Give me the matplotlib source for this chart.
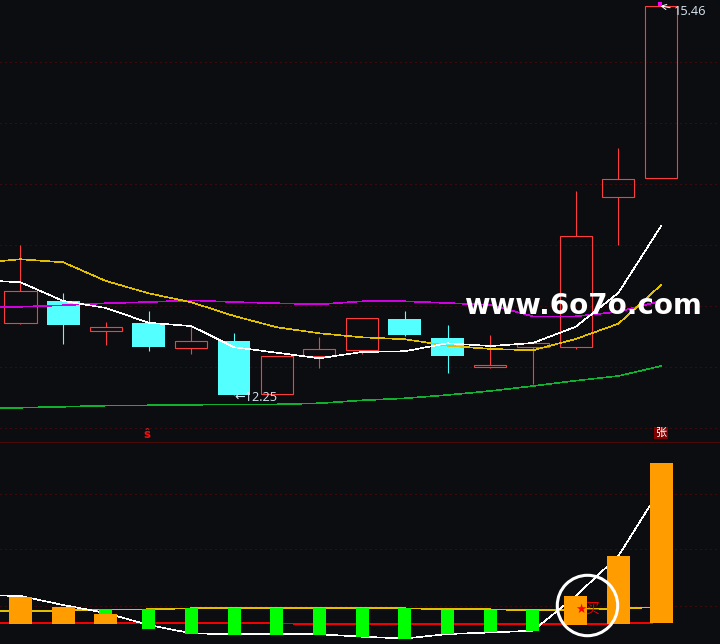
import numpy as np
import matplotlib
matplotlib.use("Agg")
import matplotlib.pyplot as plt

BG = '#0c0d10'
RED = '#ff3c3c'
CYAN = '#54ffff'
ORANGE = '#ff9c00'
GREEN = '#00ff00'
PX = 0.8
THIN = 0.45

# candles
idx = list(range(16))
body_top = [13.108, 13.026, 12.809, 12.844, 12.693, 12.696, 12.569, 12.627, 12.883, 12.877, 12.720, 12.498, 12.677, 13.559, 14.032, 15.459]
body_bot = [12.846, 12.828, 12.780, 12.646, 12.640, 12.250, 12.261, 12.574, 12.619, 12.745, 12.572, 12.481, 12.648, 12.648, 13.884, 14.040]
high = [13.488, 13.092, 12.850, 12.943, 12.822, 12.762, 12.569, 12.729, 12.883, 12.943, 12.828, 12.745, 12.677, 13.933, 14.288, 15.460]
low = [12.838, 12.673, 12.665, 12.615, 12.591, 12.250, 12.261, 12.475, 12.591, 12.739, 12.434, 12.475, 12.343, 12.632, 13.490, 14.040]
falling = [1, 3, 5, 9, 10]

# moving averages (first point is one session off the left edge)
ma_x = list(range(-1, 16))
ma_white = [13.199, 13.180, 13.026, 12.968, 12.846, 12.819, 12.644, 12.599, 12.553, 12.605, 12.611, 12.677, 12.654, 12.679, 12.813, 13.092, 13.644]
ma_yellow = [13.339, 13.370, 13.345, 13.191, 13.089, 13.015, 12.902, 12.809, 12.759, 12.726, 12.710, 12.657, 12.630, 12.619, 12.712, 12.838, 13.158]
ma_magenta = [12.968, 12.978, 12.990, 13.007, 13.017, 13.031, 13.017, 13.007, 12.998, 13.023, 13.023, 13.009, 12.993, 12.899, 12.899, 12.937, 13.026]
ma_green = [12.136, 12.145, 12.153, 12.162, 12.165, 12.169, 12.173, 12.173, 12.182, 12.206, 12.223, 12.250, 12.283, 12.324, 12.368, 12.407, 12.489]

# indicator
orange_idx = [0, 1, 2, 13, 14, 15]
orange_top = [0.0526, 0.0326, 0.0186, 0.0546, 0.1346, 0.3206]
orange_bot = [-0.0014, -0.0014, -0.0014, -0.0028, -0.0008, 0.0012]
green_idx = [2, 3, 4, 5, 6, 7, 8, 9, 10, 11, 12]
green_top = [0.028, 0.028, 0.0306, 0.0306, 0.0306, 0.0306, 0.0306, 0.0306, 0.0266, 0.0266, 0.0266]
green_bot = [0.0146, -0.0114, -0.0214, -0.0234, -0.0234, -0.0234, -0.0274, -0.0314, -0.0214, -0.0174, -0.0148]
dif_white = [0.0566, 0.0546, 0.0366, 0.0206, -0.0034, -0.02, -0.022, -0.022, -0.022, -0.0268, -0.0304, -0.0214, -0.0184, -0.0148, 0.0546, 0.1346, 0.2706]
dea_yellow = [0.024, 0.024, 0.0256, 0.0276, 0.028, 0.03, 0.03, 0.03, 0.03, 0.03, 0.03, 0.028, 0.028, 0.026, 0.0276, 0.0296, 0.0326]
base_red = [0, 0, 0, 0, 0, 0, 0, 0, -0.002, -0.002, -0.002, -0.002, -0.002, -0.002, -0.002, -0.0004, 0.0016]

grid_upper = [14.997, 14.494, 13.991, 13.488, 12.984, 12.481, 11.978]
grid_lower = [0.2594, 0.148, 0.034]

W, H = 720, 644
SEP = 441
fig = plt.figure(figsize=(7.2, 6.44), dpi=100, facecolor=BG)
ax = fig.add_axes([0, (H - SEP) / H, 1, SEP / H], facecolor=BG)
bx = fig.add_axes([0, 0, 1, (H - SEP) / H], facecolor=BG)
xlim = (-0.48, 16.38)
ax.set_xlim(*xlim)
bx.set_xlim(*xlim)
ax.set_ylim(11.8705, 15.50875)
bx.set_ylim(-0.0414, 0.3646)
for a in (ax, bx):
    a.axis('off')

grid_kw = dict(color='#3c0a0a', lw=0.72, dashes=(2, 3), antialiased=False, zorder=1)
for g in grid_upper:
    ax.axhline(g, **grid_kw)
for g in grid_lower:
    bx.axhline(g, **grid_kw)
fig.add_artist(plt.Line2D([0, 1], [(H - SEP - 0.5) / H] * 2, color='#4a0a0a', lw=0.72))

# candles
for i in idx:
    top, bot = body_top[i], body_bot[i]
    if i in falling:
        ax.vlines(i, low[i], high[i], color=CYAN, lw=PX, zorder=2)
        ax.bar(i, top - bot, bottom=bot, width=0.77, color=CYAN, lw=0, zorder=3)
    else:
        ax.vlines(i, top, high[i], color=RED, lw=PX, zorder=2)
        ax.vlines(i, low[i], bot, color=RED, lw=PX, zorder=2)
        ax.bar(i, top - bot, bottom=bot, width=0.75, fill=False, edgecolor=RED, lw=PX, zorder=3)

for vals, col in [(ma_green, '#10b030'), (ma_magenta, '#d000e0'), (ma_yellow, '#e0c000'), (ma_white, '#ffffff')]:
    ax.plot(ma_x, vals, color=col, lw=THIN, antialiased=False, zorder=4)

# price labels
label_font = ['Open Sans', 'DejaVu Sans']
ax.text(5.0, 12.226, '←12.25', color='#d8e6f2', fontsize=9.2, family=label_font, ha='left', va='center', zorder=6)
ax.annotate('15.46', xy=(14.98, 15.46), xytext=(15.31, 15.415), color='#d8e6f2', fontsize=9.2, family=label_font,
            ha='left', va='center', zorder=6,
            arrowprops=dict(arrowstyle='->', color='white', lw=0.72, shrinkA=1, shrinkB=0))
ax.scatter([14.98], [15.475], s=6, marker='s', color='#ff00ff', lw=0, zorder=6)

# signals
ax.text(2.95, 11.925, 'ŝ', color='#f01010', fontsize=8.5, fontweight='bold', ha='center', va='center', zorder=6)
ax.text(15.0, 11.936, '张', color='white', fontsize=8, family=['Noto Sans CJK SC', 'DejaVu Sans'],
        ha='center', va='center', zorder=6,
        bbox=dict(boxstyle='square,pad=0.1', fc='#800000', ec='none'))

# watermark
ax.text(13.16, 12.985, 'www.6o7o.com', color='white', fontsize=20, fontweight='bold',
        family='DejaVu Sans', ha='center', va='center', zorder=7)

# indicator panel
bx.plot(ma_x, base_red, color='#f00000', lw=THIN, antialiased=False, zorder=2)
bx.plot(ma_x, dea_yellow, color='#e0c000', lw=THIN, antialiased=False, zorder=2)
bx.plot(ma_x, dif_white, color='white', lw=THIN, antialiased=False, zorder=2)
bx.bar(green_idx, np.array(green_top) - np.array(green_bot), bottom=green_bot, width=0.305, color=GREEN, lw=0, zorder=3)
bx.bar(orange_idx, np.array(orange_top) - np.array(orange_bot), bottom=orange_bot, width=0.54, color=ORANGE, lw=0, zorder=4)
bx.text(13.12, 0.0285, '★', color='#ff0000', fontsize=9, family='DejaVu Sans', ha='center', va='center', zorder=6)
bx.text(13.38, 0.0295, '买', color='#f00000', fontsize=10, family=['Noto Sans CJK SC', 'DejaVu Sans'], ha='center', va='center', zorder=6)
bx.plot([13.27], [0.036], marker='o', ms=43.5, mfc='none', mec='white', mew=2.2, zorder=7, ls='none')

fig.savefig('out.png', dpi=100, facecolor=BG)
